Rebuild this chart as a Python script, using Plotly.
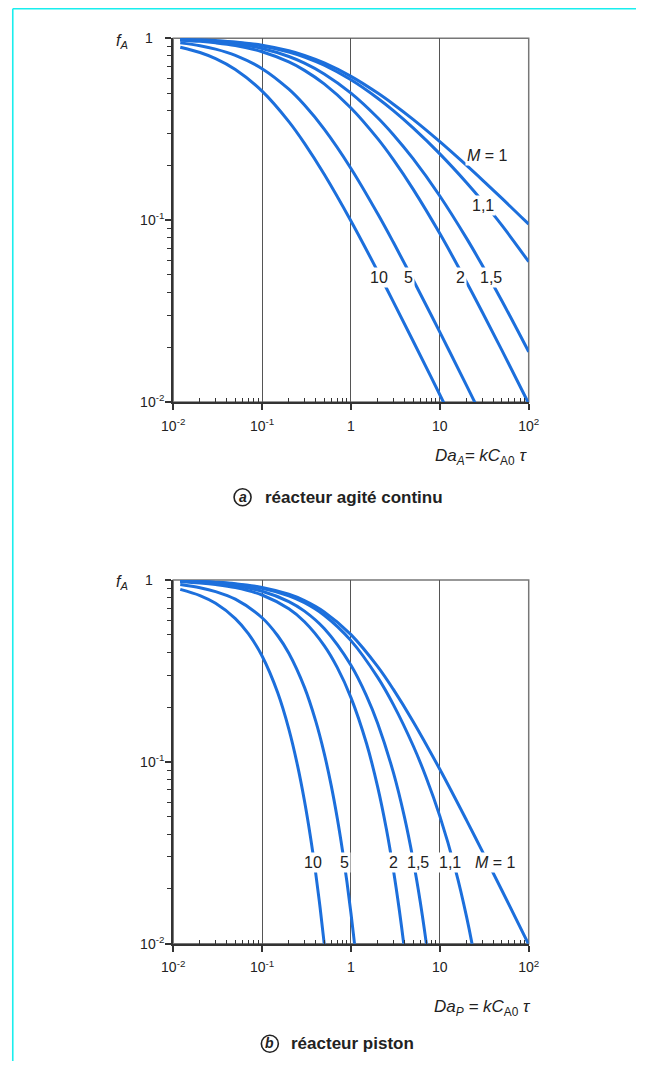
import plotly.graph_objects as go

# ---------------- data ----------------
# (a) continuous stirred reactor: Da_A values and f_A for each M
cstr_da = [0.012, 0.02, 0.03, 0.05, 0.1, 0.2, 0.3, 0.5, 1, 2, 3, 5, 10, 20, 30, 50, 100]
cstr_m1 = [0.98828, 0.98076, 0.97166, 0.95445, 0.91608, 0.85410, 0.80540, 0.73205, 0.61803,
           0.5, 0.43426, 0.35826, 0.27016, 0.2, 0.16667, 0.13177, 0.09512]
cstr_m1_1 = [0.98712, 0.97888, 0.96893, 0.95011, 0.90841, 0.84154, 0.78938, 0.71139, 0.59127,
             0.46811, 0.4, 0.32170, 0.23166, 0.16085, 0.12770, 0.09362, 0.05913]
cstr_m1_5 = [0.98252, 0.97141, 0.95809, 0.93312, 0.87882, 0.79436, 0.73040, 0.63746, 0.5,
             0.36603, 0.29533, 0.21789, 0.13589, 0.07944, 0.05651, 0.03597, 0.01891]
cstr_m2 = [0.97683, 0.96224, 0.94488, 0.91273, 0.84429, 0.74165, 0.66667, 0.56155, 0.41421,
           0.28078, 0.21525, 0.14833, 0.08443, 0.04564, 0.03131, 0.01924, 0.00981]
cstr_m5 = [0.94400, 0.91057, 0.87247, 0.80625, 0.68114, 0.52494, 0.42940, 0.31662, 0.19258,
           0.10850, 0.07560, 0.04709, 0.02425, 0.01231, 0.00825, 0.00497, 0.00249]
cstr_m10 = [0.89388, 0.83562, 0.77327, 0.67399, 0.51249, 0.34847, 0.26459, 0.17891, 0.09902,
            0.05234, 0.03558, 0.02169, 0.01098, 0.00552, 0.00369, 0.00222, 0.00111]

# (b) plug-flow reactor: Da_P values and f_A for each M
pfr_da_m1 = [0.012, 0.02, 0.03, 0.05, 0.1, 0.2, 0.3, 0.5, 1, 2, 3, 5, 10, 20, 30, 50, 100]
pfr_m1 = [0.98814, 0.98039, 0.97087, 0.95238, 0.90909, 0.83333, 0.76923, 0.66667, 0.5,
          0.33333, 0.25, 0.16667, 0.09091, 0.04762, 0.03226, 0.01961, 0.0099]
pfr_da_m1_1 = [0.012, 0.02, 0.03, 0.05, 0.1, 0.2, 0.3, 0.5, 1, 2, 3, 5, 7, 10, 15, 20, 25, 30]
pfr_m1_1 = [0.98696, 0.97845, 0.96801, 0.94774, 0.90045, 0.81819, 0.74906, 0.63940, 0.46364,
            0.29109, 0.20625, 0.12291, 0.08230, 0.05025, 0.02545, 0.01403, 0.00806, 0.00474]
pfr_da_m1_5 = [0.012, 0.02, 0.03, 0.05, 0.1, 0.2, 0.3, 0.5, 1, 1.5, 2, 3, 4, 5, 6, 7, 8]
pfr_m1_5 = [0.98227, 0.97073, 0.95663, 0.92942, 0.86669, 0.76016, 0.67317, 0.53994, 0.33943,
            0.22983, 0.16248, 0.08737, 0.04959, 0.02895, 0.01717, 0.01027, 0.00618]
pfr_da_m2 = [0.012, 0.02, 0.03, 0.05, 0.1, 0.2, 0.3, 0.5, 0.7, 1, 1.5, 2, 2.5, 3, 3.5, 4, 5]
pfr_m2 = [0.97642, 0.96117, 0.94259, 0.90699, 0.82621, 0.69309, 0.58833, 0.43527, 0.33030,
          0.22540, 0.12557, 0.07258, 0.04280, 0.02553, 0.01533, 0.00924, 0.00338]
pfr_da_m5 = [0.012, 0.02, 0.03, 0.05, 0.1, 0.15, 0.2, 0.3, 0.4, 0.5, 0.6, 0.7, 0.8, 0.9, 1, 1.1, 1.2]
pfr_m5 = [0.94210, 0.90570, 0.86254, 0.78324, 0.61928, 0.49318, 0.39496, 0.25640, 0.16831,
          0.11128, 0.07392, 0.04925, 0.03288, 0.02198, 0.01471, 0.00985, 0.00659]
pfr_da_m10 = [0.012, 0.02, 0.03, 0.05, 0.07, 0.1, 0.15, 0.2, 0.25, 0.3, 0.35, 0.4, 0.45, 0.5, 0.55, 0.6]
pfr_m10 = [0.88753, 0.82026, 0.74382, 0.61295, 0.50630, 0.38142, 0.23953, 0.15127, 0.09587,
           0.06089, 0.03873, 0.02466, 0.01571, 0.01001, 0.00638, 0.00407]

x_tickvals = [0.01, 0.1, 1, 10, 100]
x_ticktext = ["10<sup>-2</sup>", "10<sup>-1</sup>", "1", "10", "10<sup>2</sup>"]
y_tickvals = [0.01, 0.1, 1]
y_ticktext = ["10<sup>-2</sup>", "10<sup>-1</sup>", "1&nbsp;&nbsp;&nbsp;"]
minor_x = [m * 10.0 ** k for k in range(-2, 2) for m in range(2, 10)]
minor_y = [m * 10.0 ** k for k in range(-2, 0) for m in range(2, 10)]

top_labels = ["M = 1", "1,1", "1,5", "2", "5", "10"]
bottom_labels = ["10", "5", "2", "1,5", "1,1", "M = 1"]

# ---------------- figure ----------------
W, H = 647, 1069
BLUE = "#1c6fdc"
FONT = "Liberation Sans"
# the photographed page is framed: picture = offset + scale * page
SX, OX, SY, OY = 0.965, 12.0, 0.984, 8.0

fig = go.Figure()

for ys in [cstr_m1, cstr_m1_1, cstr_m1_5, cstr_m2, cstr_m5, cstr_m10]:
    fig.add_trace(go.Scatter(x=cstr_da, y=ys, mode="lines", xaxis="x", yaxis="y",
                             line=dict(color=BLUE, width=3, shape="spline"),
                             hoverinfo="skip"))

for xs, ys in [(pfr_da_m1, pfr_m1), (pfr_da_m1_1, pfr_m1_1), (pfr_da_m1_5, pfr_m1_5),
               (pfr_da_m2, pfr_m2), (pfr_da_m5, pfr_m5), (pfr_da_m10, pfr_m10)]:
    fig.add_trace(go.Scatter(x=xs, y=ys, mode="lines", xaxis="x2", yaxis="y2",
                             line=dict(color=BLUE, width=3, shape="spline"),
                             hoverinfo="skip"))


# picture pixel -> page pixel -> paper fraction
def page_x(p):
    return (p - OX) / SX


def page_y(p):
    return (p - OY) / SY


def px_x(p):
    return page_x(p) / W


def px_y(p):
    return 1 - page_y(p) / H


X0, X1 = 173.3, 529.0
TOP = (38.3, 401.7)
BOT = (579.3, 942.7)

tickfont = dict(family=FONT, size=14, color="#222")


def xaxis_cfg(anchor):
    return dict(type="log", range=[-2, 2], domain=[px_x(X0), px_x(X1)], anchor=anchor,
                tickmode="array", tickvals=x_tickvals, ticktext=x_ticktext,
                ticks="outside", ticklen=6, tickwidth=1.5, tickcolor="#333",
                showline=True, linewidth=2, linecolor="#333",
                showgrid=True, gridcolor="#555", gridwidth=1, zeroline=False,
                minor=dict(ticks="inside", ticklen=4, tickwidth=1, tickcolor="#333",
                           tickmode="array", tickvals=minor_x, showgrid=False),
                tickfont=tickfont, ticklabelstandoff=4)


def yaxis_cfg(anchor, dom):
    return dict(type="log", range=[-2, 0], domain=[px_y(dom[1]), px_y(dom[0])], anchor=anchor,
                tickmode="array", tickvals=y_tickvals, ticktext=y_ticktext,
                ticks="outside", ticklen=6, tickwidth=1.5, tickcolor="#333",
                showline=True, linewidth=2, linecolor="#333",
                showgrid=False, zeroline=False,
                minor=dict(ticks="outside", ticklen=4, tickwidth=1, tickcolor="#333",
                           tickmode="array", tickvals=minor_y, showgrid=False),
                tickfont=tickfont, ticklabelstandoff=-2)


shapes = []
for xr, yr in (("x domain", "y domain"), ("x2 domain", "y2 domain")):
    shapes.append(dict(type="rect", xref=xr, yref=yr, x0=0, x1=1, y0=0, y1=1,
                       line=dict(color="#777", width=1.5), layer="below"))
# cyan page border (as near the page edge as the figure allows)
cx_ = max(px_x(6.5), 0.8 / W)
cy_ = min(px_y(4.3), 1 - 0.8 / H)
shapes.append(dict(type="line", xref="paper", yref="paper", x0=cx_, x1=cx_,
                   y0=0, y1=cy_, line=dict(color="#19eeee", width=1.6)))
shapes.append(dict(type="line", xref="paper", yref="paper", x0=cx_, x1=1,
                   y0=cy_, y1=cy_, line=dict(color="#19eeee", width=1.6)))
# caption circles
for cx, cy in ((242.7, 496.7), (270.0, 1042.7)):
    shapes.append(dict(type="circle", xref="paper", yref="paper",
                       x0=px_x(cx - 8.5), x1=px_x(cx + 8.5), y0=px_y(cy + 8.5), y1=px_y(cy - 8.5),
                       line=dict(color="#222", width=1.6)))

annotations = []


def label(text, x, y, size=14, bg="white", xanchor="center", **kw):
    annotations.append(dict(text=text, x=px_x(x), y=px_y(y), xref="paper", yref="paper",
                            showarrow=False, xanchor=xanchor, yanchor="middle",
                            font=dict(family=FONT, size=size, color="#222"),
                            bgcolor=bg, borderpad=1, **kw))


def fmt(t):
    return t.replace("M", "<i>M</i>")


top_pos = [(488, 155), (483, 205), (491, 277.3), (461, 277.3), (408.3, 277.3), (379.3, 277.3)]
for t, (x, y) in zip(top_labels, top_pos):
    label(fmt(t), x, y, size=16)

bot_pos = [(313.3, 861.7), (344.3, 861.7), (393.3, 861.7), (418.3, 861.7), (450, 861.7), (496, 861.7)]
for t, (x, y) in zip(bottom_labels, bot_pos):
    label(fmt(t), x, y, size=16)

# axis titles
label("<i>f</i><sub><i>A</i></sub>", 122, 41, size=16, bg="rgba(0,0,0,0)")
label("<i>f</i><sub><i>A</i></sub>", 122, 582, size=16, bg="rgba(0,0,0,0)")
label("<i>Da</i><sub><i>A</i></sub><i>= kC</i><sub>A0</sub> <i>τ</i>", 529, 457, size=17,
      bg="rgba(0,0,0,0)", xanchor="right")
label("<i>Da</i><sub><i>P</i></sub><i> = kC</i><sub>A0</sub> <i>τ</i>", 533, 1007, size=17,
      bg="rgba(0,0,0,0)", xanchor="right")

# captions
label("<b><i>a</i></b>", 242.7, 496.0, size=14, bg="rgba(0,0,0,0)")
label("<b>réacteur agité continu</b>", 263, 496.7, size=17, bg="rgba(0,0,0,0)", xanchor="left")
label("<b><i>b</i></b>", 270.0, 1042.0, size=14, bg="rgba(0,0,0,0)")
label("<b>réacteur piston</b>", 289, 1042.7, size=17, bg="rgba(0,0,0,0)", xanchor="left")

fig.update_layout(
    width=W, height=H,
    margin=dict(l=0, r=0, t=0, b=0),
    paper_bgcolor="white", plot_bgcolor="white",
    showlegend=False,
    xaxis=xaxis_cfg("y"),
    yaxis=yaxis_cfg("x", TOP),
    xaxis2=xaxis_cfg("y2"),
    yaxis2=yaxis_cfg("x2", BOT),
    shapes=shapes,
    annotations=annotations,
    font=dict(family=FONT),
)

fig.write_html(
    "out.html",
    config={"displayModeBar": False},
    post_script="document.body.style.margin='0';document.body.style.padding='0';"
                "document.documentElement.style.overflow='hidden';",
)
